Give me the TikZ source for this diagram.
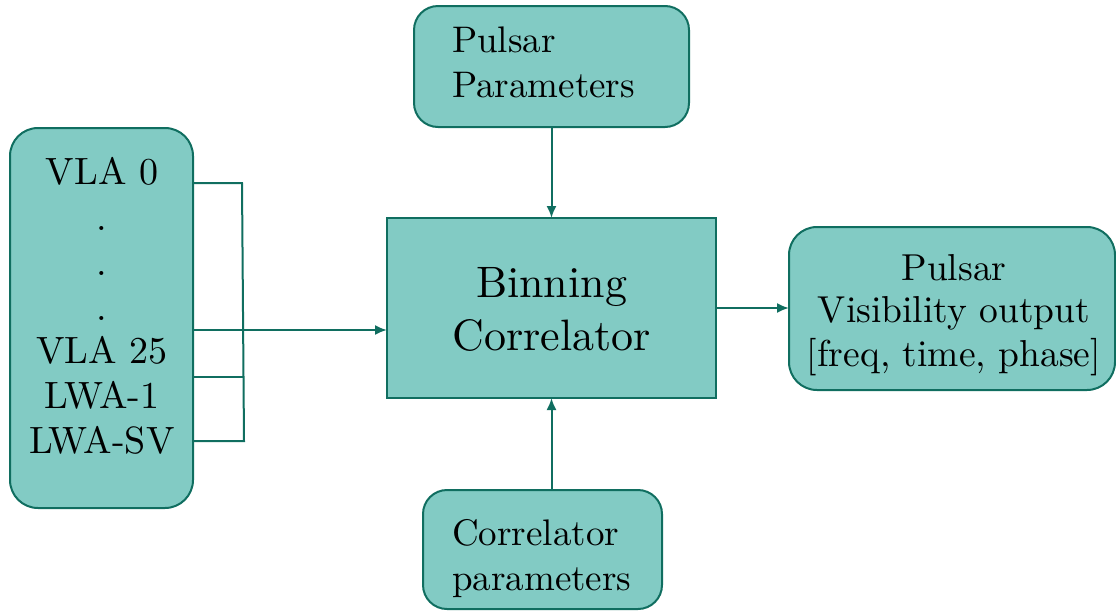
\documentclass[tikz,border=0pt]{standalone}
\usetikzlibrary{arrows.meta}
\definecolor{tfill}{RGB}{130,203,196}
\definecolor{tline}{RGB}{16,110,96}
\font\lmxA="[lmroman10-regular.otf]" at 37pt
\font\lmxB="[lmroman10-regular.otf]" at 44pt
\font\lmxC="[lmroman10-regular.otf]" at 38pt
\font\lmxD="[lmroman10-regular.otf]" at 37.5pt
\begin{document}
\begin{tikzpicture}[x=1pt,y=-1pt,
  box/.style={draw=tline, fill=tfill, line width=2pt, inner sep=0pt, outer sep=0pt},
  rbox/.style={box, rounded corners=28pt},
  lbl/.style={font=\lmxA, inner sep=0pt, anchor=base},
  lbll/.style={lbl, anchor=base west},
  antl/.style={lbl, font=\lmxC},
  outl/.style={lbl, font=\lmxD},
  big/.style={font=\lmxB, inner sep=0pt, anchor=base},
  conn/.style={draw=tline, line width=2pt},
  arr/.style={conn, -{Latex[length=12pt,width=10pt]}}]
\useasboundingbox (0,0) rectangle (1116,611);
% boxes
\node[rbox, minimum width=183pt, minimum height=380pt] (ant) at (101.5,318) {};
\node[rbox, rounded corners=24pt, minimum width=275pt, minimum height=121pt] (pp) at (551.5,66.5) {};
\node[box, minimum width=329pt, minimum height=180pt] (bc) at (551.5,308) {};
\node[rbox, minimum width=326pt, minimum height=163pt] (out) at (952,308.5) {};
\node[rbox, rounded corners=24pt, minimum width=239pt, minimum height=119pt] (cp) at (542.5,549.5) {};
% antenna labels
\node[antl] (a1) at (102,184) {VLA 0};
\node[antl] (a2) at (102,230) {.};
\node[antl] (a3) at (102,275) {.};
\node[antl] (a4) at (102,320) {.};
\node[antl] (a5) at (102,363) {VLA 25};
\node[antl] (a6) at (102,408) {LWA-1};
\node[antl] (a7) at (102,453) {LWA-SV};
% pulsar parameters
\node[lbll] (p1) at (452,52) {Pulsar};
\node[lbll] (p2) at (452,97) {Parameters};
% binning correlator
\node[big] (b1) at (551.5,297) {Binning};
\node[big] (b2) at (551.5,350) {Correlator};
% output
\node[outl] (o1) at (954,280) {Pulsar};
\node[outl] (o2) at (954,322) {Visibility output};
\node[outl] (o3) at (954,366.5) {[freq, time, phase]};
% correlator parameters
\node[lbll] (c1) at (452,545) {Correlator};
\node[lbll] (c2) at (452,590) {parameters};
% bus coordinates
\coordinate (s1) at (193,183);
\coordinate (s2) at (193,330);
\coordinate (s3) at (193,377);
\coordinate (s4) at (193,441);
\coordinate (bt) at (242,183);
\coordinate (bb) at (244,441);
\draw[conn] (s1) -- (bt) -- (bb) -- (s4);
\draw[conn] (s3) -- (s3 -| bb);
\draw[arr] (s2) -- (s2 -| bc.west);
\draw[arr] (pp.south) -- (bc.north);
\draw[arr] (bc.south |- cp.north) -- (bc.south);
\draw[arr] (bc.east) -- (bc.east -| out.west);
\end{tikzpicture}
\end{document}
